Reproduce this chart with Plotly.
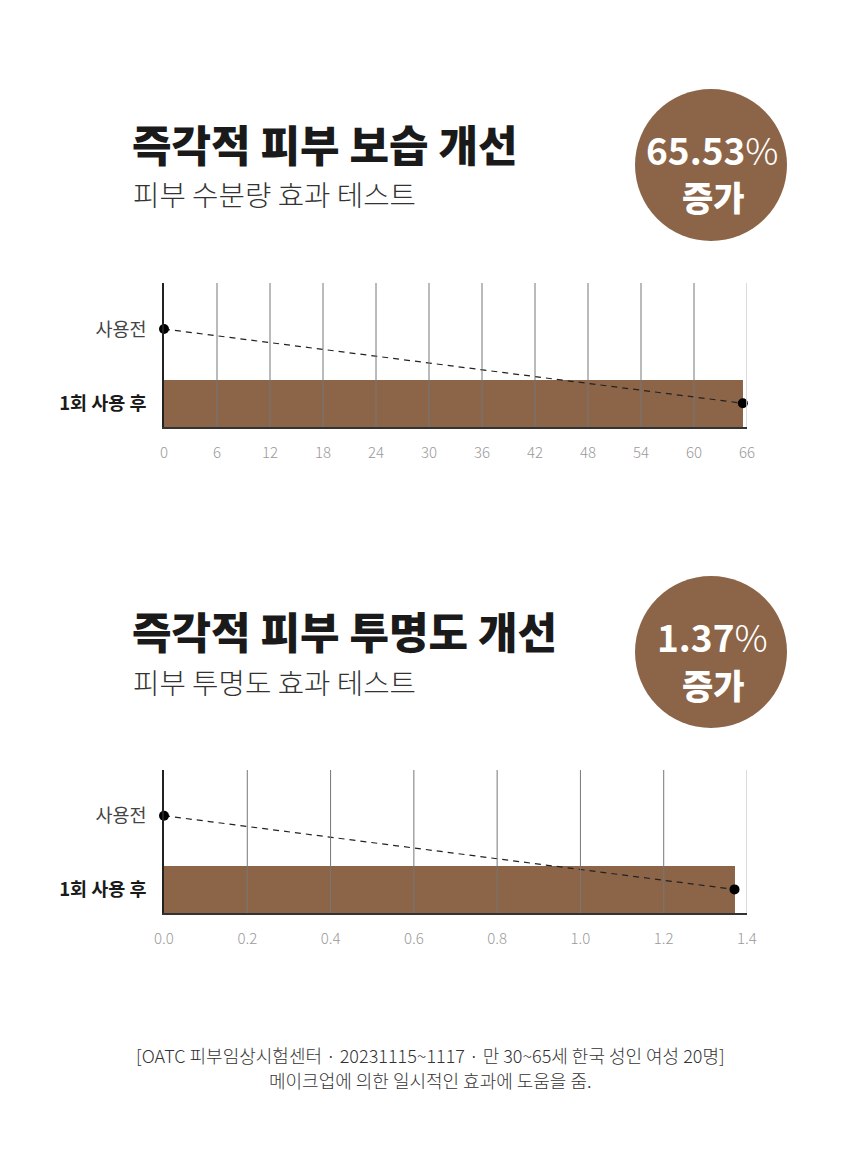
import plotly.graph_objects as go

# data
categories = ["1회 사용 후", "사용전"]
moist_before = 0
moist_after = 65.53
moist_ticks = [0, 6, 12, 18, 24, 30, 36, 42, 48, 54, 60, 66]
clear_before = 0
clear_after = 1.37
clear_ticks = [0.0, 0.2, 0.4, 0.6, 0.8, 1.0, 1.2, 1.4]

titles = ["즉각적 피부 보습 개선", "즉각적 피부 투명도 개선"]
subtitles = ["피부 수분량 효과 테스트", "피부 투명도 효과 테스트"]
badges = ["65.53%", "1.37%"]
footnote = ["[OATC 피부임상시험센터 · 20231115~1117 · 만 30~65세 한국 성인 여성 20명]",
            "메이크업에 의한 일시적인 효과에 도움을 줌."]

BROWN = "#8c6548"
KR = "Noto Sans CJK KR"
OFF = 8  # page body margin
W, H = 860 - OFF, 1150 - OFF

fig = go.Figure()


def px_x(x):
    return (x - OFF) / W


def px_y(y):
    return 1 - (y - OFF) / H


def add_chart(n, before, after, ticks, xmax, fmt, top, bottom):
    xa = "x" if n == 1 else "x2"
    ya = "y" if n == 1 else "y2"
    fig.add_trace(go.Bar(
        x=[after], y=[categories[0]], orientation="h",
        marker=dict(color=BROWN, line=dict(width=0)), width=0.635,
        xaxis=xa, yaxis=ya, showlegend=False, hoverinfo="skip",
    ))
    fig.add_trace(go.Scatter(
        x=[before, after], y=[categories[1], categories[0]],
        mode="lines+markers", line=dict(color="#222", width=1.2, dash="6px,5px"),
        marker=dict(color="black", size=10),
        xaxis=xa, yaxis=ya, showlegend=False, cliponaxis=False,
    ))
    # gridlines drawn over the bar
    for t in ticks[1:]:
        last = t == ticks[-1]
        fig.add_shape(type="line", xref=xa, yref=ya + " domain",
                      x0=t, x1=t, y0=0, y1=1, layer="above",
                      line=dict(color="#d0d0d0" if last else "#777",
                                width=1.5 if last else 1))
    xkey = "xaxis" if n == 1 else "xaxis2"
    ykey = "yaxis" if n == 1 else "yaxis2"
    fig.update_layout(**{
        xkey: dict(
            domain=[px_x(164), px_x(747)], range=[0, xmax], anchor=ya,
            tickvals=ticks, tickformat=fmt, showgrid=False,
            zeroline=False, showline=True, linecolor="#333", automargin=False,
            linewidth=1.5, layer="above traces", ticks="", ticklabelstandoff=11,
            tickfont=dict(family=KR, size=15, color="#9a9a9a", weight=300),
        ),
        ykey: dict(
            domain=[px_y(bottom), px_y(top)], type="category",
            categoryarray=categories, range=[-0.32, 1.62], anchor=xa,
            showline=True, linecolor="#222", linewidth=1.5, showgrid=False,
            tickvals=categories, automargin=False, layer="above traces",
            ticktext=["<b>1회 사용 후</b>", "<span style='color:#444'>사용전</span>"],
            tickfont=dict(family=KR, size=18.5, color="#1a1a1a"),
            ticks="", ticklabelstandoff=12,
        ),
    })


add_chart(1, moist_before, moist_after, moist_ticks, 66, "d", 283, 427)
add_chart(2, clear_before, clear_after, clear_ticks, 1.4, ".1f", 770, 913)

annotations = []
for i, (ty, sy, cy) in enumerate([(143, 193, 165), (630, 681, 652)]):
    annotations.append(dict(
        text=titles[i], x=px_x(130), y=px_y(ty), xref="paper", yref="paper",
        xanchor="left", yanchor="middle", showarrow=False,
        font=dict(family=KR, size=43, color="#1a1a1a", weight=900),
    ))
    annotations.append(dict(
        text=subtitles[i], x=px_x(131), y=px_y(sy), xref="paper", yref="paper",
        xanchor="left", yanchor="middle", showarrow=False,
        font=dict(family=KR, size=28.7, color="#333", weight=300),
    ))
    fig.add_shape(type="circle", xref="paper", yref="paper",
                  x0=px_x(711 - 76), x1=px_x(711 + 76),
                  y0=px_y(cy + 76), y1=px_y(cy - 76),
                  fillcolor=BROWN, line=dict(width=0), layer="below")
    num, pct = badges[i][:-1], badges[i][-1]
    annotations.append(dict(
        text=f"<b>{num}</b><span style='font-weight:300'>{pct}</span>",
        x=px_x(712), y=px_y(cy - 16), xref="paper", yref="paper",
        xanchor="center", yanchor="middle", showarrow=False,
        font=dict(family=KR, size=37, color="white"),
    ))
    annotations.append(dict(
        text="증가", x=px_x(713), y=px_y(cy + 32), xref="paper", yref="paper",
        xanchor="center", yanchor="middle", showarrow=False,
        font=dict(family=KR, size=34, color="white", weight=900),
    ))

for j, fy in enumerate([1055, 1080]):
    annotations.append(dict(
        text=footnote[j], x=px_x(430), y=px_y(fy), xref="paper", yref="paper",
        xanchor="center", yanchor="middle", showarrow=False,
        font=dict(family=KR, size=18, color="#333", weight=300),
    ))

fig.update_layout(
    width=W, height=H, margin=dict(l=0, r=0, t=0, b=0, autoexpand=False),
    paper_bgcolor="white", plot_bgcolor="rgba(0,0,0,0)",
    bargap=0, annotations=annotations, showlegend=False,
)

fig.write_html("out.html")
